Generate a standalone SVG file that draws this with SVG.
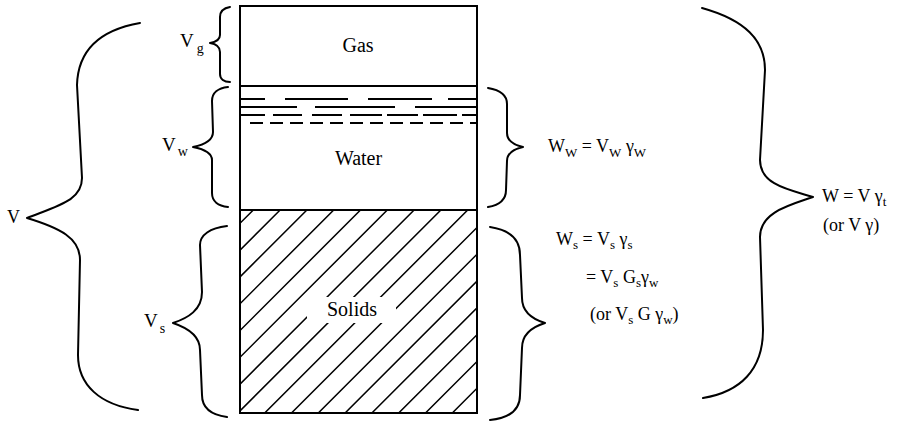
<svg xmlns="http://www.w3.org/2000/svg" width="903" height="426" viewBox="0 0 903 426" font-family="'Liberation Serif', 'DejaVu Serif', serif">
<style>
text{font-family:'Liberation Serif','DejaVu Serif',serif;fill:#000}
.lbl{font-size:20px}
.eq{font-size:18px}
.sub{font-size:13px}
.brace{fill:none;stroke:#000;stroke-width:2;stroke-linecap:round;stroke-linejoin:round}
.edge{fill:none;stroke:#000;stroke-width:2}
.dash{fill:none;stroke:#000;stroke-width:2}
.hatch{fill:none;stroke:#000;stroke-width:1.5}
</style>
<defs>
<clipPath id="solidsClip"><rect x="241" y="211" width="235" height="201"/></clipPath>
</defs>
<rect width="903" height="426" fill="#fff"/>

<g id="solids">
<g clip-path="url(#solidsClip)">
<path class="hatch" d="M253.3,210L50.3,413M280.1,210L77.1,413M306.9,210L103.9,413M333.7,210L130.7,413M360.5,210L157.5,413M387.3,210L184.3,413M414.1,210L211.1,413M440.9,210L237.9,413M467.7,210L264.7,413M494.5,210L291.5,413M521.3,210L318.3,413M548.1,210L345.1,413M574.9,210L371.9,413M601.7,210L398.7,413M628.5,210L425.5,413M655.3,210L452.3,413M682.1,210L479.1,413"/>
</g>
<rect x="307" y="297" width="89" height="26" fill="#fff"/>
<text class="lbl" x="352" y="316" text-anchor="middle" font-family="'Liberation Serif', serif">Solids</text>
</g>

<g id="water">
<path class="dash" d="M240,99H265M285,99H348M368,99H432M448,99H477M240,107H297M315,107H395M415,107H477M240,115H265M273,115H302M312,115H342M350,115H382M387,115H418M423,115H457M462,115H477"/>
<path class="dash" stroke-dasharray="13 7" d="M250,123H477"/>
<text class="lbl" x="358.5" y="165" text-anchor="middle" font-family="'Liberation Serif', serif">Water</text>
</g>

<g id="gas">
<text class="lbl" x="358" y="52" text-anchor="middle" font-family="'Liberation Serif', serif">Gas</text>
</g>

<g id="box">
<rect class="edge" x="240" y="6" width="237" height="407"/>
<line class="edge" x1="240" y1="86" x2="477" y2="86"/>
<line class="edge" x1="240" y1="210" x2="477" y2="210"/>
</g>

<g id="connectors">
<path class="brace" d="M140,23 C100,30 78,50 77,85 L82,178 C82,200 60,205 27,218 C60,228 80,238 80,260 L78,355 C78,385 100,405 138,410"/>
<path class="brace" d="M230,7 C224,8 220,11 220,17 L220,35 C220,40 216,42 210,43 C216,44 220,47 220,52 L220,74 C220,79 224,82 230,82"/>
<path class="brace" d="M228,87 C218,88 212,93 212,101 L213,132 C213,141 203,145 193,147 C203,149 212,153 212,160 L212,193 C212,201 218,206 228,207"/>
<path class="brace" d="M227,226 C210,228 200,235 200,245 L202,292 C202,310 188,318 173,323 C188,328 200,336 200,350 L202,395 C202,408 212,415 227,417"/>
<path class="brace" d="M488,88 C500,90 507,95 507,104 L507,133 C507,141 514,145 523,147 C514,149 507,153 507,161 L506,190 C506,200 500,205 488,207"/>
<path class="brace" d="M490,227 C510,230 520,240 520,255 L522,298 C522,312 532,319 545,323 C532,327 522,334 522,348 L520,395 C520,410 510,418 490,420"/>
<path class="brace" d="M702,8 C745,20 765,40 765,70 L760,160 C760,185 790,190 813,197 C790,205 760,212 760,237 L763,330 C763,370 740,392 703,398"/>
</g>

<g id="label-V">
<text x="7" y="223" style="font-size:18px">V</text>
</g>
<g id="label-Vg">
<text x="180" y="47" style="font-size:19px">V<tspan dx="3" dy="6" style="font-size:14px">g</tspan></text>
</g>
<g id="label-Vw">
<text x="162" y="151" style="font-size:19px">V<tspan dx="2" dy="5" style="font-size:14px">w</tspan></text>
</g>
<g id="label-Vs">
<text x="144" y="327" style="font-size:19px">V<tspan dx="2" dy="6" style="font-size:14px">s</tspan></text>
</g>

<g id="label-Ww">
<text class="eq" x="548" y="152">W<tspan class="sub" dy="5">W</tspan><tspan dy="-5"> = V</tspan><tspan class="sub" dy="5">W</tspan><tspan dy="-5"> γ</tspan><tspan class="sub" dy="5">W</tspan></text>
</g>
<g id="label-Ws">
<text class="eq" x="556" y="245">W<tspan class="sub" dy="4">s</tspan><tspan dy="-4"> = V</tspan><tspan class="sub" dy="4">s</tspan><tspan dy="-4"> γ</tspan><tspan class="sub" dy="4">s</tspan></text>
<text class="eq" x="586" y="283">= V<tspan class="sub" dy="4">s</tspan><tspan dy="-4"> G</tspan><tspan class="sub" dy="4">s</tspan><tspan dy="-4">γ</tspan><tspan class="sub" dy="4">w</tspan></text>
<text class="eq" x="590" y="320">(or V<tspan class="sub" dy="4">s</tspan><tspan dy="-4"> G γ</tspan><tspan class="sub" dy="4">w</tspan><tspan dy="-4">)</tspan></text>
</g>
<g id="label-W">
<text class="eq" x="822" y="202">W = V γ<tspan class="sub" dy="4">t</tspan></text>
<text class="eq" x="823" y="231">(or V γ)</text>
</g>
</svg>
